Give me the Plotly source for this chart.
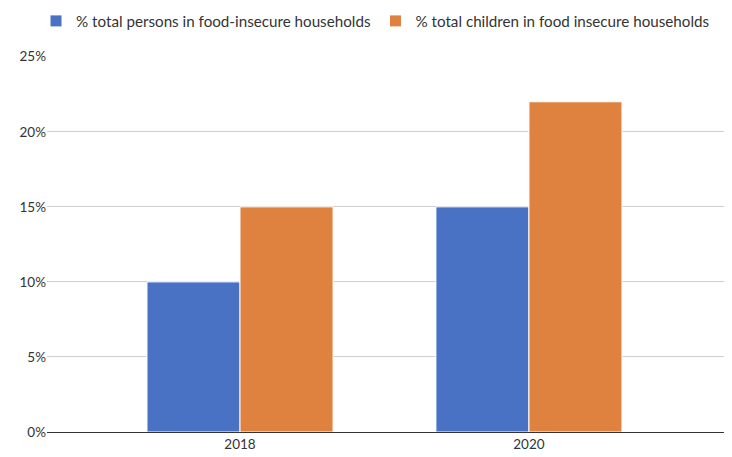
import plotly.graph_objects as go

years = ["2018", "2020"]
persons = [10, 15]
children = [15, 22]
y_ticks = [0, 5, 10, 15, 20, 25]
y_labels = ["0%", "5%", "10%", "15%", "20%", "25%"]

fig = go.Figure()
fig.add_trace(go.Bar(x=years, y=persons, name="% total persons in food-insecure households",
                     marker=dict(color="#4a72c4", line=dict(color="white", width=1))))
fig.add_trace(go.Bar(x=years, y=children, name="% total children in food insecure households",
                     marker=dict(color="#e0823f", line=dict(color="white", width=1))))

# page has an 8px body margin, so the figure is sized 724x449
fig.update_layout(
    width=724, height=449,
    margin=dict(l=39, r=6, t=48, b=25, autoexpand=False),
    paper_bgcolor="white", plot_bgcolor="white",
    font=dict(family="Lato", size=13, color="#444"),
    barmode="group", bargap=0.356, bargroupgap=0,
    legend=dict(orientation="h", xref="container", yref="container",
                x=0.0387, xanchor="left", y=0.971, yanchor="middle",
                font=dict(size=15.2, color="#333"), itemwidth=30, traceorder="normal"),
    xaxis=dict(type="category", range=[-0.668, 1.682], showgrid=False, automargin=False,
               showline=True, linecolor="#333", linewidth=1, ticks="",
               tickfont=dict(size=13.5, color="#333")),
    yaxis=dict(range=[0, 25.05], tickvals=y_ticks, ticktext=y_labels, automargin=False,
               showgrid=True, gridcolor="#cfcfcf", gridwidth=1, zeroline=False,
               ticks="", ticklen=0, tickfont=dict(size=13.5, color="#333")),
)
fig.write_html("out.html")
